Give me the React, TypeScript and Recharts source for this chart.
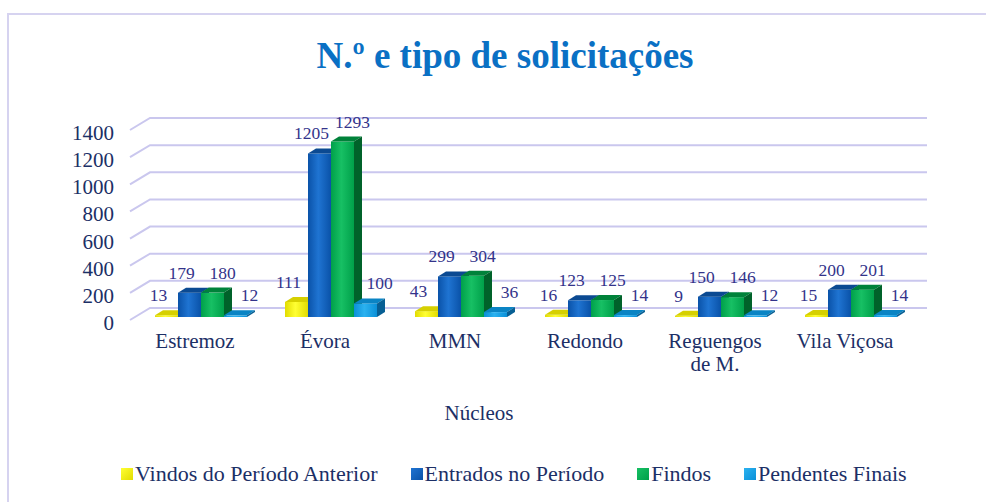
import { BarChart, Bar, XAxis, YAxis, CartesianGrid, LabelList } from 'recharts';

const CATEGORIES = ['Estremoz', 'Évora', 'MMN', 'Redondo', 'Reguengos de M.', 'Vila Viçosa'];
const VINDOS = [13, 111, 43, 16, 9, 15];
const ENTRADOS = [179, 1205, 299, 123, 150, 200];
const FINDOS = [180, 1293, 304, 125, 146, 201];
const PENDENTES = [12, 100, 36, 14, 12, 14];
const Y_TICKS = [0, 200, 400, 600, 800, 1000, 1200, 1400];

const SERIF = '"Liberation Serif", Tinos, "DejaVu Serif", "Noto Serif", "Times New Roman", serif';
const TEXT = '#1c2f66';
const VALUE_TEXT = '#33338a';

// front / top / side shades for the 3d columns
const SERIES = [
  { key: 'vindos', label: 'Vindos do Período Anterior', light: '#ffff33', dark: '#e2dc00', top: '#d6d000', side: '#9a9400', labelDx: -8 },
  { key: 'entrados', label: 'Entrados no Período', light: '#1f74d2', dark: '#0a52a8', top: '#0b4a92', side: '#063d7c', labelDx: -8 },
  { key: 'findos', label: 'Findos', light: '#17c064', dark: '#00a04a', top: '#00823a', side: '#00622a', labelDx: 10 },
  { key: 'pendentes', label: 'Pendentes Finais', light: '#2bb2f0', dark: '#0a90d8', top: '#0a84c4', side: '#075f94', labelDx: 14 },
];

const data = CATEGORIES.map((name, i) => ({
  name,
  vindos: VINDOS[i],
  entrados: ENTRADOS[i],
  findos: FINDOS[i],
  pendentes: PENDENTES[i],
}));

const DX = 8;
const DY = 5;
const SHIFT_X = 6;

function prism(idx: number) {
  const s = SERIES[idx];
  return (props: any) => {
    const { x, y, width, height } = props;
    const X = x + SHIFT_X;
    const Y = y;
    const W = width;
    const H = Math.max(height, 0);
    return (
      <g>
        <rect x={X} y={Y} width={W} height={H} fill={`url(#front-${s.key})`} />
        <polygon
          points={`${X},${Y} ${X + DX},${Y - DY} ${X + W + DX},${Y - DY} ${X + W},${Y}`}
          fill={s.top}
        />
        <polygon
          points={`${X + W},${Y} ${X + W + DX},${Y - DY} ${X + W + DX},${Y + H - DY} ${X + W},${Y + H}`}
          fill={s.side}
        />
      </g>
    );
  };
}

function valueLabel(idx: number) {
  const s = SERIES[idx];
  return (props: any) => {
    const { x, y, width, value } = props;
    return (
      <text
        x={x + SHIFT_X + width / 2 + s.labelDx}
        y={y - 14}
        textAnchor="middle"
        fontFamily={SERIF}
        fontSize={17.5}
        fill={VALUE_TEXT}
      >
        {value}
      </text>
    );
  };
}

function wrap(text: string, max: number) {
  const lines: string[] = [];
  let cur = '';
  text.split(' ').forEach(w => {
    const next = cur ? `${cur} ${w}` : w;
    if (next.length > max && cur) {
      lines.push(cur);
      cur = w;
    } else cur = next;
  });
  if (cur) lines.push(cur);
  return lines;
}

const CategoryTick = (props: any) => {
  const { x, y, payload } = props;
  const lines = wrap(payload.value, 11);
  return (
    <text x={x} y={y} textAnchor="middle" fontFamily={SERIF} fontSize={21} fill={TEXT}>
      {lines.map((l, i) => (
        <tspan key={i} x={x} dy={23}>
          {l}
        </tspan>
      ))}
    </text>
  );
};

const ValueTick = (props: any) => {
  const { y, payload } = props;
  return (
    <text x={114} y={y + 13} textAnchor="end" fontFamily={SERIF} fontSize={21} fill={TEXT}>
      {payload.value}
    </text>
  );
};

const GridLine = (props: any) => {
  const { x1, x2, y1 } = props;
  return (
    <polyline
      points={`${x1},${y1 + 3} ${x1 + 20},${y1 - 9} ${x2 + 17},${y1 - 9}`}
      fill="none"
      stroke="#cac7ee"
      strokeWidth={2}
    />
  );
};

export default function App() {
  return (
    <div style={{ position: 'absolute', left: 0, top: 0, width: 986, height: 502, background: '#fff', overflow: 'hidden' }}>
      <div
        style={{
          position: 'absolute',
          left: 7,
          top: 13,
          width: 990,
          height: 500,
          borderTop: '2px solid #d6d3f0',
          borderLeft: '2px solid #d6d3f0',
        }}
      />
      <div
        style={{
          position: 'absolute',
          left: 0,
          top: 36,
          width: 1010,
          textAlign: 'center',
          fontFamily: SERIF,
          fontWeight: 'bold',
          fontSize: 37,
          color: '#0a70c4',
          lineHeight: '40px',
        }}
      >
        N.º e tipo de solicitações
      </div>
      <div style={{ position: 'absolute', left: 0, top: 0 }}>
        <BarChart
          width={986}
          height={502}
          data={data}
          margin={{ top: 127, right: 76, bottom: 125, left: 70 }}
          barSize={23}
          barGap={0}
        >
          <defs>
            {SERIES.map(s => (
              <linearGradient key={s.key} id={`front-${s.key}`} x1="0" y1="0" x2="1" y2="0">
                <stop offset="0%" stopColor={s.dark} />
                <stop offset="45%" stopColor={s.light} />
                <stop offset="100%" stopColor={s.dark} />
              </linearGradient>
            ))}
          </defs>
          <CartesianGrid vertical={false} horizontal={GridLine} />
          <XAxis
            dataKey="name"
            axisLine={false}
            tickLine={false}
            interval={0}
            tick={CategoryTick}
            height={60}
            label={{
              value: 'Núcleos',
              content: (p: any) => (
                <text
                  x={p.viewBox.x + p.viewBox.width / 2 - 41}
                  y={420}
                  textAnchor="middle"
                  fontFamily={SERIF}
                  fontSize={21}
                  fill={TEXT}
                >
                  Núcleos
                </text>
              ),
            }}
          />
          <YAxis
            width={60}
            domain={[0, 1400]}
            ticks={Y_TICKS}
            axisLine={false}
            tickLine={false}
            tick={ValueTick}
          />
          {SERIES.map((s, i) => (
            <Bar key={s.key} dataKey={s.key} name={s.label} shape={prism(i)} isAnimationActive={false}>
              <LabelList dataKey={s.key} content={valueLabel(i)} />
            </Bar>
          ))}
        </BarChart>
      </div>
      <div
        style={{
          position: 'absolute',
          left: 121,
          top: 461,
          display: 'flex',
          alignItems: 'center',
          gap: 33,
          fontFamily: SERIF,
          fontSize: 22,
          color: TEXT,
          whiteSpace: 'nowrap',
        }}
      >
        {SERIES.map(s => (
          <div key={s.key} style={{ display: 'flex', alignItems: 'center', gap: 2 }}>
            <span
              style={{
                display: 'inline-block',
                width: 12,
                height: 12,
                background: `linear-gradient(135deg, ${s.light}, ${s.dark})`,
              }}
            />
            <span>{s.label}</span>
          </div>
        ))}
      </div>
    </div>
  );
}
